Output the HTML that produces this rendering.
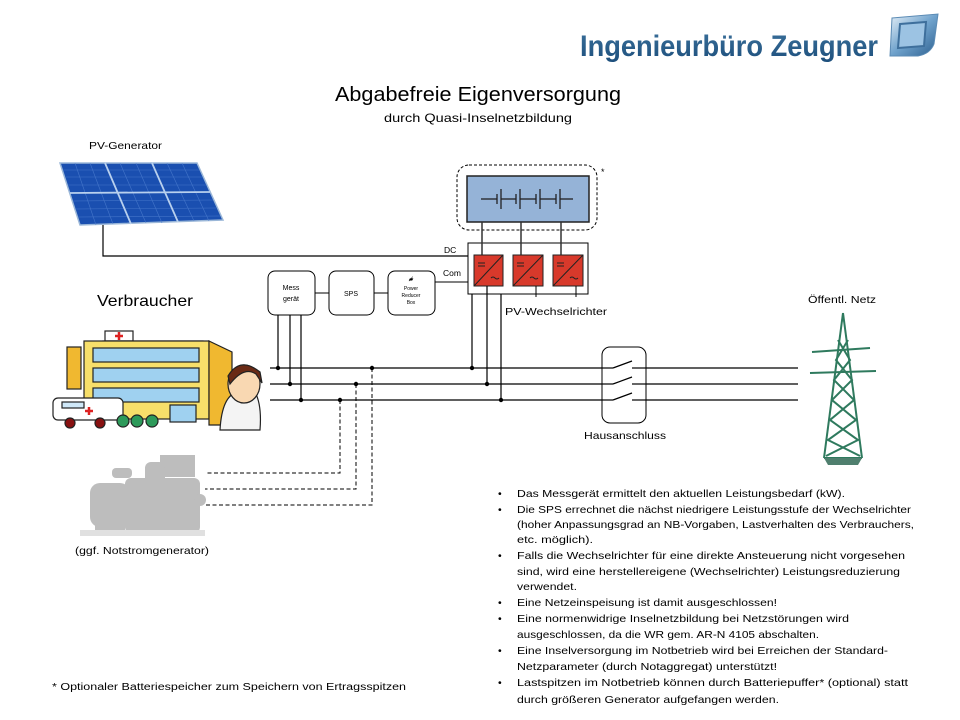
<!DOCTYPE html>
<html><head><meta charset="utf-8"><style>
html,body{margin:0;padding:0;background:#fff;}
svg{display:block;font-family:"Liberation Sans",sans-serif;}
</style></head><body>
<svg width="960" height="720" viewBox="0 0 960 720" xmlns="http://www.w3.org/2000/svg">
<defs>
<linearGradient id="lg" x1="0" y1="0" x2="0" y2="1"><stop offset="0" stop-color="#3a6f9a"/><stop offset="1" stop-color="#1d4f7c"/></linearGradient>
<linearGradient id="logo" x1="0" y1="0" x2="1" y2="1"><stop offset="0" stop-color="#e6f0f8"/><stop offset="0.5" stop-color="#6fa2cc"/><stop offset="1" stop-color="#2c5f8f"/></linearGradient>
</defs>
<text x="580" y="56" font-size="30" font-weight="bold" fill="url(#lg)" textLength="298" lengthAdjust="spacingAndGlyphs">Ingenieurbüro Zeugner</text>
<path d="M892 18 L938 14 L934 44 Q930 54 918 56 L890 56 Z" fill="url(#logo)" stroke="#5b8bb5"/>
<path d="M900 24 L926 22 L924 46 L898 48 Z" fill="#9cc3e3" stroke="#3e6f9c" stroke-width="2"/>
<text x="335" y="101" font-size="20" fill="#000" textLength="286" lengthAdjust="spacingAndGlyphs">Abgabefreie Eigenversorgung</text>
<text x="384" y="122" font-size="12" fill="#000" textLength="188" lengthAdjust="spacingAndGlyphs">durch Quasi-Inselnetzbildung</text>
<text x="89" y="149" font-size="10.5" textLength="73" lengthAdjust="spacingAndGlyphs">PV-Generator</text>
<polygon points="60,163 197,163 223,220 80,225" fill="#1a4fb0" stroke="#9bb7d8" stroke-width="1.5"/>
<g stroke="#4f7fd0" stroke-width="0.6" opacity="0.8">
<line x1="63" y1="170" x2="200" y2="170"/><line x1="66" y1="177" x2="203" y2="177"/><line x1="68" y1="185" x2="207" y2="185"/>
<line x1="73" y1="201" x2="213" y2="200"/><line x1="75" y1="209" x2="216" y2="208"/><line x1="78" y1="217" x2="220" y2="216"/>
<line x1="75" y1="163" x2="96" y2="225"/><line x1="90" y1="163" x2="113" y2="224"/>
<line x1="120" y1="163" x2="146" y2="223"/><line x1="136" y1="163" x2="162" y2="223"/>
<line x1="167" y1="163" x2="194" y2="221"/><line x1="182" y1="163" x2="209" y2="221"/>
</g>
<g stroke="#b8d0ee" stroke-width="1.8">
<line x1="105" y1="163" x2="131" y2="224"/><line x1="152" y1="163" x2="178" y2="222"/>
<line x1="70" y1="193" x2="210" y2="192"/>
</g>
<polyline points="103,225 103,256 468,256" fill="none" stroke="#000" stroke-width="1.2"/>
<text x="444" y="253" font-size="8.5">DC</text>
<text x="443" y="276" font-size="8.5">Com</text>
<line x1="435" y1="282" x2="468" y2="282" stroke="#000"/>
<g fill="#fff" stroke="#000" stroke-width="1">
<rect x="268" y="271" width="47" height="44" rx="7"/>
<rect x="329" y="271" width="45" height="44" rx="7"/>
<rect x="388" y="271" width="47" height="44" rx="7"/>
</g>
<line x1="315" y1="293" x2="329" y2="293" stroke="#000"/>
<line x1="374" y1="293" x2="388" y2="293" stroke="#000"/>
<text x="291" y="290" font-size="7" text-anchor="middle">Mess</text>
<text x="291" y="301" font-size="7" text-anchor="middle">gerät</text>
<text x="351" y="296" font-size="7" text-anchor="middle">SPS</text>
<text x="411" y="281" font-size="6" text-anchor="middle">▰̸</text>
<text x="411" y="290" font-size="5" text-anchor="middle">Power</text>
<text x="411" y="297" font-size="5" text-anchor="middle">Reducer</text>
<text x="411" y="304" font-size="5" text-anchor="middle">Box</text>
<rect x="457" y="165" width="140" height="65" rx="12" fill="none" stroke="#000" stroke-dasharray="3,2"/>
<text x="601" y="175" font-size="9">*</text>
<rect x="467" y="176" width="122" height="46" fill="#95b3d7" stroke="#222" stroke-width="1.5"/>
<g stroke="#222" stroke-width="1.3">
<line x1="481" y1="199" x2="497" y2="199"/><line x1="497" y1="194" x2="497" y2="204"/><line x1="501" y1="189" x2="501" y2="209"/>
<line x1="501" y1="199" x2="516" y2="199"/><line x1="516" y1="194" x2="516" y2="204"/><line x1="520" y1="189" x2="520" y2="209"/>
<line x1="520" y1="199" x2="536" y2="199"/><line x1="536" y1="194" x2="536" y2="204"/><line x1="540" y1="189" x2="540" y2="209"/>
<line x1="540" y1="199" x2="556" y2="199"/><line x1="556" y1="194" x2="556" y2="204"/><line x1="560" y1="189" x2="560" y2="209"/>
<line x1="560" y1="199" x2="573" y2="199"/>
</g>
<rect x="468" y="243" width="120" height="51" fill="#fff" stroke="#000"/>
<g stroke="#333" stroke-width="1.5"><line x1="482" y1="222" x2="482" y2="255"/><line x1="521" y1="222" x2="521" y2="255"/><line x1="561" y1="222" x2="561" y2="255"/></g>
<g fill="#d8392b" stroke="#222">
<rect x="474" y="255" width="29" height="31"/><rect x="513" y="255" width="30" height="31"/><rect x="553" y="255" width="30" height="31"/>
</g>
<g stroke="#222" stroke-width="1" fill="none">
<path d="M474 286 L503 255 M478 263 h7 M478 266 h7 M491 278 q2-2 4 0 q2 2 4 0"/>
<path d="M513 286 L543 255 M517 263 h7 M517 266 h7 M530 278 q2-2 4 0 q2 2 4 0"/>
<path d="M553 286 L583 255 M557 263 h7 M557 266 h7 M570 278 q2-2 4 0 q2 2 4 0"/>
</g>
<line x1="536" y1="286" x2="536" y2="297" stroke="#000"/>
<line x1="576" y1="286" x2="576" y2="297" stroke="#000"/>
<text x="505" y="315" font-size="10.5" textLength="102" lengthAdjust="spacingAndGlyphs">PV-Wechselrichter</text>
<g stroke="#000" stroke-width="1.2" fill="none">
<line x1="270" y1="368" x2="602" y2="368"/><line x1="270" y1="384" x2="602" y2="384"/><line x1="270" y1="400" x2="602" y2="400"/>
<line x1="632" y1="368" x2="798" y2="368"/><line x1="632" y1="384" x2="798" y2="384"/><line x1="632" y1="400" x2="798" y2="400"/>
<line x1="278" y1="315" x2="278" y2="368"/><line x1="290" y1="315" x2="290" y2="384"/><line x1="301" y1="315" x2="301" y2="400"/>
<line x1="472" y1="294" x2="472" y2="368"/><line x1="487" y1="286" x2="487" y2="384"/><line x1="501" y1="294" x2="501" y2="400"/>
</g>
<g fill="#000">
<circle cx="278" cy="368" r="2.2"/><circle cx="290" cy="384" r="2.2"/><circle cx="301" cy="400" r="2.2"/>
<circle cx="472" cy="368" r="2.2"/><circle cx="487" cy="384" r="2.2"/><circle cx="501" cy="400" r="2.2"/>
<circle cx="372" cy="368" r="2.2"/><circle cx="356" cy="384" r="2.2"/><circle cx="340" cy="400" r="2.2"/>
</g>
<g stroke="#000" stroke-dasharray="4,2.5" fill="none">
<polyline points="372,368 372,505 205,505"/>
<polyline points="356,384 356,489 205,489"/>
<polyline points="340,400 340,473 205,473"/>
</g>
<rect x="602" y="347" width="44" height="76" rx="8" fill="#fff" stroke="#000"/>
<g stroke="#000" stroke-width="1.2">
<line x1="602" y1="368" x2="613" y2="368"/><line x1="613" y1="368" x2="632" y2="361"/><line x1="632" y1="368" x2="646" y2="368"/>
<line x1="602" y1="384" x2="613" y2="384"/><line x1="613" y1="384" x2="632" y2="377"/><line x1="632" y1="384" x2="646" y2="384"/>
<line x1="602" y1="400" x2="613" y2="400"/><line x1="613" y1="400" x2="632" y2="393"/><line x1="632" y1="400" x2="646" y2="400"/>
</g>
<text x="584" y="439" font-size="10.5" textLength="82" lengthAdjust="spacingAndGlyphs">Hausanschluss</text>
<text x="808" y="303" font-size="10.5" textLength="68" lengthAdjust="spacingAndGlyphs">Öffentl. Netz</text>
<g stroke="#2f7a5e" stroke-width="2" fill="none">
<line x1="843" y1="313" x2="824" y2="458"/><line x1="843" y1="313" x2="862" y2="458"/>
<line x1="812" y1="352" x2="870" y2="348"/><line x1="810" y1="373" x2="876" y2="371"/>
<path d="M838 340 L850 360 L834 380 L854 400 L830 420 L858 440 L826 456"/>
<path d="M848 340 L836 360 L852 380 L832 400 L856 420 L828 440 L860 456"/>
<line x1="824" y1="458" x2="862" y2="458"/>
</g>
<polygon points="824,458 862,458 858,465 828,465" fill="#4f7f6e"/>
<text x="97" y="306" font-size="16" textLength="96" lengthAdjust="spacingAndGlyphs">Verbraucher</text>
<g stroke="#222" stroke-width="1.2">
<rect x="105" y="331" width="28" height="10" fill="#fff"/>
<path d="M119 332 v8 M115 336 h8" stroke="#d22" stroke-width="2.5"/>
<rect x="103" y="341" width="100" height="10" fill="#f5c842"/>
<rect x="84" y="341" width="125" height="78" fill="#f7df6a"/>
<polygon points="209,341 232,352 232,425 209,425" fill="#f0b830"/>
<rect x="67" y="347" width="14" height="42" fill="#f0b830"/>
<rect x="93" y="348" width="106" height="14" fill="#9fd1f0"/>
<rect x="93" y="368" width="106" height="14" fill="#9fd1f0"/>
<rect x="93" y="388" width="106" height="14" fill="#9fd1f0"/>
<rect x="170" y="405" width="26" height="17" fill="#9fd1f0"/>
<rect x="53" y="398" width="70" height="22" rx="5" fill="#fff"/>
<rect x="62" y="402" width="22" height="6" fill="#cfe8f8"/>
<circle cx="70" cy="423" r="5" fill="#811"/><circle cx="100" cy="423" r="5" fill="#811"/>
<circle cx="123" cy="421" r="6" fill="#2d9a5a"/><circle cx="137" cy="421" r="6" fill="#2d9a5a"/><circle cx="152" cy="421" r="6" fill="#2d9a5a"/>
<path d="M220 430 Q222 395 238 392 L255 392 Q262 405 260 430 Z" fill="#f4f4f4"/>
<ellipse cx="244" cy="384" rx="16" ry="19" fill="#f9d8b2"/>
<path d="M228 376 Q240 356 260 372 L262 383 L256 374 Q244 366 230 384 Z" fill="#6a2a15"/>
</g>
<path d="M89 407 v8 M85 411 h8" stroke="#d22" stroke-width="2.5"/>
<g fill="#bdbdbd">
<rect x="160" y="455" width="35" height="22"/>
<rect x="145" y="462" width="20" height="22" rx="6"/>
<rect x="112" y="468" width="20" height="10" rx="4"/>
<rect x="90" y="483" width="40" height="44" rx="10"/>
<rect x="125" y="478" width="75" height="55" rx="6"/>
<circle cx="200" cy="500" r="6"/>
<rect x="95" y="520" width="30" height="13"/>
<rect x="80" y="530" width="125" height="6" fill="#e0e0e0"/>
</g>
<text x="75" y="554" font-size="10.5" textLength="134" lengthAdjust="spacingAndGlyphs">(ggf. Notstromgenerator)</text>
<g font-size="10.5" fill="#000">
<text x="498" y="497">•</text><text x="517" y="497" textLength="328" lengthAdjust="spacingAndGlyphs">Das Messgerät ermittelt  den aktuellen Leistungsbedarf (kW).</text>
<text x="498" y="513">•</text><text x="517" y="513" textLength="394" lengthAdjust="spacingAndGlyphs">Die SPS errechnet die nächst niedrigere Leistungsstufe der Wechselrichter</text>
<text x="517" y="528" textLength="397" lengthAdjust="spacingAndGlyphs">(hoher Anpassungsgrad an NB-Vorgaben, Lastverhalten des Verbrauchers,</text>
<text x="517" y="543" textLength="76" lengthAdjust="spacingAndGlyphs">etc. möglich).</text>
<text x="498" y="559">•</text><text x="517" y="559" textLength="388" lengthAdjust="spacingAndGlyphs">Falls die Wechselrichter für eine direkte Ansteuerung  nicht vorgesehen</text>
<text x="517" y="575" textLength="383" lengthAdjust="spacingAndGlyphs">sind, wird eine herstellereigene (Wechselrichter) Leistungsreduzierung</text>
<text x="517" y="590" textLength="60" lengthAdjust="spacingAndGlyphs">verwendet.</text>
<text x="498" y="606">•</text><text x="517" y="606" textLength="260" lengthAdjust="spacingAndGlyphs">Eine Netzeinspeisung ist damit ausgeschlossen!</text>
<text x="498" y="622">•</text><text x="517" y="622" textLength="332" lengthAdjust="spacingAndGlyphs">Eine normenwidrige Inselnetzbildung bei Netzstörungen  wird</text>
<text x="517" y="638" textLength="302" lengthAdjust="spacingAndGlyphs">ausgeschlossen, da die WR gem.  AR-N 4105 abschalten.</text>
<text x="498" y="654">•</text><text x="517" y="654" textLength="371" lengthAdjust="spacingAndGlyphs">Eine Inselversorgung im Notbetrieb wird bei Erreichen der Standard-</text>
<text x="517" y="670" textLength="260" lengthAdjust="spacingAndGlyphs">Netzparameter  (durch Notaggregat)  unterstützt!</text>
<text x="498" y="686">•</text><text x="517" y="686" textLength="391" lengthAdjust="spacingAndGlyphs">Lastspitzen im Notbetrieb  können durch Batteriepuffer* (optional) statt</text>
<text x="517" y="703" textLength="262" lengthAdjust="spacingAndGlyphs">durch größeren Generator  aufgefangen werden.</text>
</g>
<text x="52" y="690" font-size="10" textLength="354" lengthAdjust="spacingAndGlyphs">*   Optionaler Batteriespeicher zum Speichern von Ertragsspitzen</text>
</svg>
</body></html>
